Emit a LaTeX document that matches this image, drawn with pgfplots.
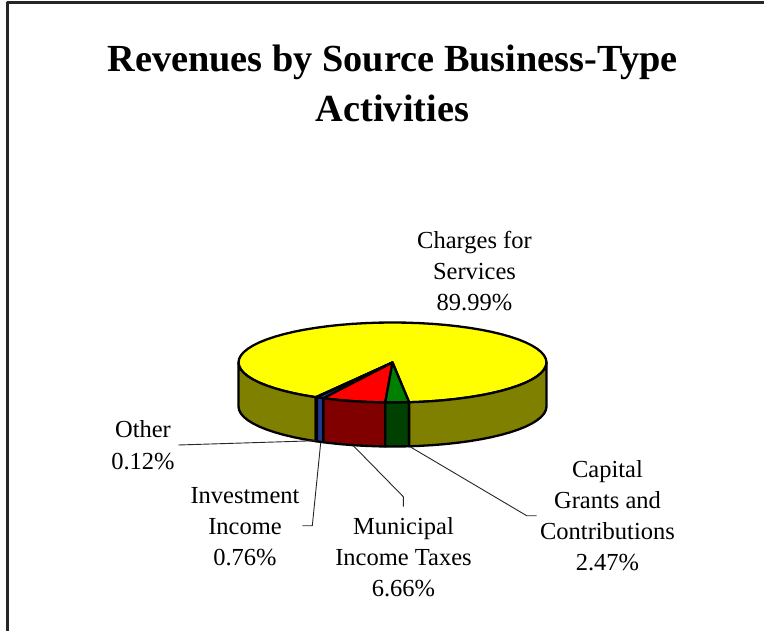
\documentclass[border=0pt]{standalone}
\usepackage{pgfplots}
\pgfplotsset{compat=1.18}
\usepackage{fontspec}
\setmainfont{Liberation Serif}
\definecolor{pieyellow}{HTML}{FFFF00}
\definecolor{pieolive}{HTML}{808000}
\definecolor{piered}{HTML}{FF0000}
\definecolor{piedarkred}{HTML}{800000}
\definecolor{piegreen}{HTML}{008000}
\definecolor{piedarkgreen}{HTML}{004000}
\definecolor{pieblue}{HTML}{2F4FBF}
\definecolor{piedarkblue}{HTML}{1E3A8F}
\begin{document}
\begin{tikzpicture}
\useasboundingbox (0,0) rectangle (764pt,631pt);
\begin{axis}[
  at={(0,0)}, anchor=south west,
  scale only axis, width=764pt, height=631pt,
  xmin=0, xmax=764, ymin=0, ymax=631, y dir=reverse,
  hide axis, clip=false,
  every axis plot/.append style={line join=round},
]
% frame
\addplot[black!85, line width=2.4pt] coordinates {(7.5,631) (7.5,2.5) (764,2.5)};
% top: Charges for Services 89.99%
\addplot[draw=black, fill=pieyellow, line width=2.3pt] coordinates {
(392.5,362.5) (409.13,402.27) (419.24,401.89) (432.36,401.14) (445.17,400.09) (457.58,398.75) (469.5,397.14)
(480.83,395.27) (491.49,393.14) (501.39,390.78) (510.47,388.21) (518.65,385.44) (525.87,382.5) (532.07,379.4)
(537.21,376.18) (541.25,372.85) (544.16,369.45) (545.91,365.99) (546.5,362.5) (545.91,359.01) (544.16,355.55)
(541.25,352.15) (537.21,348.82) (532.07,345.6) (525.87,342.5) (518.65,339.56) (510.47,336.79) (501.39,334.22)
(491.49,331.86) (480.83,329.73) (469.5,327.86) (457.58,326.25) (445.17,324.91) (432.36,323.86) (419.24,323.11)
(405.92,322.65) (392.5,322.5) (379.08,322.65) (365.76,323.11) (352.64,323.86) (339.83,324.91) (327.42,326.25)
(315.5,327.86) (304.17,329.73) (293.51,331.86) (283.61,334.22) (274.53,336.79) (266.35,339.56) (259.13,342.5)
(252.93,345.6) (247.79,348.82) (243.75,352.15) (240.84,355.55) (239.09,359.01) (238.5,362.5) (239.09,365.99)
(240.84,369.45) (243.75,372.85) (247.79,376.18) (252.93,379.4) (259.13,382.5) (266.35,385.44) (274.53,388.21)
(283.61,390.78) (293.51,393.14) (304.17,395.27) (315.5,397.14) (315.85,397.19)} --cycle;
% top: Other 0.12%
\addplot[draw=black, fill=pieyellow, line width=2.3pt] coordinates {(392.5,362.5) (315.85,397.19) (316.86,397.34)} --cycle;
% top: Investment Income 0.76%
\addplot[draw=black, fill=pieblue, line width=2.3pt] coordinates {(392.5,362.5) (316.86,397.34) (323.35,398.24)} --cycle;
% top: Municipal Income Taxes 6.66%
\addplot[draw=black, fill=piered, line width=2.3pt] coordinates {(392.5,362.5) (323.35,398.24) (327.42,398.75) (339.83,400.09) (352.64,401.14) (365.76,401.89) (379.08,402.35) (385.25,402.46)} --cycle;
% top: Capital Grants and Contributions 2.47%
\addplot[draw=black, fill=piegreen, line width=2.3pt] coordinates {(392.5,362.5) (385.25,402.46) (392.5,402.5) (405.92,402.35) (409.13,402.27)} --cycle;
% side, left of Other
\addplot[draw=black, fill=pieolive, line width=2.3pt] coordinates {
(238.5,362.5) (239.09,365.99) (240.84,369.45) (243.75,372.85) (247.79,376.18) (252.93,379.4) (259.13,382.5)
(266.35,385.44) (274.53,388.21) (283.61,390.78) (293.51,393.14) (304.17,395.27) (315.5,397.14) (315.85,397.19)
(315.85,441.19) (315.5,441.14) (304.17,439.27) (293.51,437.14) (283.61,434.78) (274.53,432.21) (266.35,429.44)
(259.13,426.5) (252.93,423.4) (247.79,420.18) (243.75,416.85) (240.84,413.45) (239.09,409.99) (238.5,406.5)} --cycle;
% side, Other
\addplot[draw=black, fill=pieolive, line width=2.3pt] coordinates {(315.85,397.19) (316.86,397.34) (316.86,441.34) (315.85,441.19)} --cycle;
% side, Investment Income
\addplot[draw=black, fill=piedarkblue, line width=2.3pt] coordinates {(316.86,397.34) (323.35,398.24) (323.35,442.24) (316.86,441.34)} --cycle;
% side, Municipal Income Taxes
\addplot[draw=black, fill=piedarkred, line width=2.3pt] coordinates {
(323.35,398.24) (327.42,398.75) (339.83,400.09) (352.64,401.14) (365.76,401.89) (379.08,402.35) (385.25,402.46)
(385.25,446.46) (379.08,446.35) (365.76,445.89) (352.64,445.14) (339.83,444.09) (327.42,442.75) (323.35,442.24)} --cycle;
% side, Capital Grants
\addplot[draw=black, fill=piedarkgreen, line width=2.3pt] coordinates {
(385.25,402.46) (392.5,402.5) (405.92,402.35) (409.13,402.27) (409.13,446.27) (405.92,446.35) (392.5,446.5) (385.25,446.46)} --cycle;
% side, right of Capital Grants
\addplot[draw=black, fill=pieolive, line width=2.3pt] coordinates {
(409.13,402.27) (419.24,401.89) (432.36,401.14) (445.17,400.09) (457.58,398.75) (469.5,397.14) (480.83,395.27)
(491.49,393.14) (501.39,390.78) (510.47,388.21) (518.65,385.44) (525.87,382.5) (532.07,379.4) (537.21,376.18)
(541.25,372.85) (544.16,369.45) (545.91,365.99) (546.5,362.5)
(546.5,406.5) (545.91,409.99) (544.16,413.45) (541.25,416.85) (537.21,420.18) (532.07,423.4) (525.87,426.5)
(518.65,429.44) (510.47,432.21) (501.39,434.78) (491.49,437.14) (480.83,439.27) (469.5,441.14) (457.58,442.75)
(445.17,444.09) (432.36,445.14) (419.24,445.89) (409.13,446.27)} --cycle;
% leader lines
\addplot[black!85, line width=0.9pt] coordinates {(178.3,445) (316.7,440.7)};
\addplot[black!85, line width=0.9pt] coordinates {(320.7,442.7) (312.3,525.7) (302.3,525.7)};
\addplot[black!85, line width=0.9pt] coordinates {(353.3,445.7) (403.3,496.7) (403.3,506.7)};
\addplot[black!85, line width=0.9pt] coordinates {(410,446.7) (526.7,515.7) (536.7,515.7)};
% text
\node[align=center, font=\fontsize{38.3}{50}\selectfont\bfseries] at (392.5,83) {Revenues by Source Business-Type\\Activities};
\node[align=center, font=\fontsize{24.5}{31}\selectfont] at (474.5,271) {Charges for\\Services\\89.99\%};
\node[align=center, font=\fontsize{24.5}{32}\selectfont] at (143,445.5) {Other\\0.12\%};
\node[align=center, font=\fontsize{24.5}{31}\selectfont] at (245,527) {Investment\\Income\\0.76\%};
\node[align=center, font=\fontsize{24.5}{31}\selectfont] at (403.5,557.5) {Municipal\\Income Taxes\\6.66\%};
\node[align=center, font=\fontsize{24.5}{31}\selectfont] at (607.5,515.5) {Capital\\Grants and\\Contributions\\2.47\%};
\end{axis}
\end{tikzpicture}
\end{document}
